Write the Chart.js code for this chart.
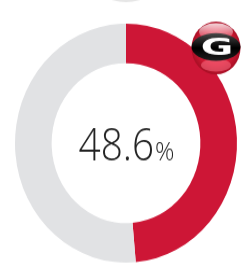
<!DOCTYPE html>
<html>
<head>
<meta charset="utf-8">
<script src="https://cdn.jsdelivr.net/npm/chart.js@4.4.0/dist/chart.umd.min.js"></script>
<style>
  html, body { margin: 0; padding: 0; background: #fff; overflow: hidden; }
  #wrap { position: absolute; left: 0; top: 0; width: 247px; height: 249px; transform: scaleY(1.0763); transform-origin: 0 0; }
</style>
</head>
<body>
<div id="wrap"><canvas id="chart" width="247" height="249"></canvas></div>
<script>
// Données du graphique
const labels = ['Georgia', 'Reste'];
const values = [48.6, 51.4];
const colors = ['#cd1636', '#e1e2e4'];
const centerValue = '48.6';
const centerUnit = '%';

// Texte central + logo
const decorPlugin = {
    id: 'decor',
    afterDraw(chart) {
        const ctx = chart.ctx;
        const meta = chart.getDatasetMeta(0);
        const cx = meta.data[0].x;
        const cy = meta.data[0].y;

        // morceau gris en haut (cercle coupé)
        ctx.save();
        ctx.fillStyle = '#e6e6e6';
        ctx.beginPath();
        ctx.ellipse(126, -20, 34, 22, 0, 0, Math.PI * 2);
        ctx.fill();
        ctx.restore();

        // valeur au centre
        ctx.save();
        ctx.fillStyle = '#222';
        ctx.textBaseline = 'alphabetic';
        const sx = 0.9;
        const bigFont = '300 43px "Open Sans", sans-serif';
        const smallFont = '300 24px "Open Sans", sans-serif';
        ctx.font = bigFont;
        const w1 = ctx.measureText(centerValue).width * sx;
        ctx.font = smallFont;
        const w2 = ctx.measureText(centerUnit).width;
        const x0 = cx - (w1 + w2) / 2;
        const base = cy + 16;
        ctx.save();
        ctx.translate(x0, base);
        ctx.scale(sx, 1);
        ctx.font = bigFont;
        ctx.fillText(centerValue, 0, 0);
        ctx.restore();
        ctx.font = smallFont;
        ctx.fillText(centerUnit, x0 + w1 + 1, base);
        ctx.restore();

        // logo "G"
        const lx = 216, ly = 44.6, r = 24.5;
        ctx.save();
        const g = ctx.createRadialGradient(lx, ly - 8, 2, lx, ly, r);
        g.addColorStop(0, '#f04a5e');
        g.addColorStop(0.7, '#d41a35');
        g.addColorStop(1, '#a80f25');
        ctx.fillStyle = g;
        ctx.beginPath();
        ctx.arc(lx, ly, r, 0, Math.PI * 2);
        ctx.fill();
        // reflet
        const h = ctx.createLinearGradient(0, ly - r, 0, ly - 10);
        h.addColorStop(0, 'rgba(255,255,255,0.9)');
        h.addColorStop(1, 'rgba(255,255,255,0.2)');
        ctx.fillStyle = h;
        ctx.beginPath();
        ctx.ellipse(lx, ly - 15, 17, 8, 0, 0, Math.PI * 2);
        ctx.fill();
        // bas rosé
        ctx.fillStyle = 'rgba(255,120,140,0.5)';
        ctx.beginPath();
        ctx.ellipse(lx, ly + 16, 15, 6, 0, 0, Math.PI * 2);
        ctx.fill();
        // ovale noir
        const b = ctx.createLinearGradient(0, ly - 13, 0, ly + 13);
        b.addColorStop(0, '#444');
        b.addColorStop(0.5, '#000');
        b.addColorStop(1, '#222');
        ctx.fillStyle = b;
        ctx.beginPath();
        ctx.ellipse(lx, ly - 1, 24.5, 12.8, 0, 0, Math.PI * 2);
        ctx.fill();
        // G blanc
        ctx.fillStyle = '#fff';
        ctx.translate(lx + 1, ly - 0.5);
        ctx.scale(1.8, 1);
        ctx.font = 'bold 22px "DejaVu Sans", sans-serif';
        ctx.textAlign = 'center';
        ctx.textBaseline = 'middle';
        ctx.fillText('G', 0, 1);
        ctx.restore();
    }
};

const ctx = document.getElementById('chart').getContext('2d');
new Chart(ctx, {
    type: 'doughnut',
    data: {
        labels: labels,
        datasets: [{
            data: values,
            backgroundColor: colors,
            borderWidth: 0,
            hoverOffset: 0
        }]
    },
    options: {
        responsive: false,
        animation: false,
        cutout: '67%',
        layout: { padding: { left: 15, right: 10, top: 22, bottom: 5 } },
        plugins: {
            legend: { display: false },
            tooltip: { enabled: false }
        }
    },
    plugins: [decorPlugin]
});
</script>
</body>
</html>
